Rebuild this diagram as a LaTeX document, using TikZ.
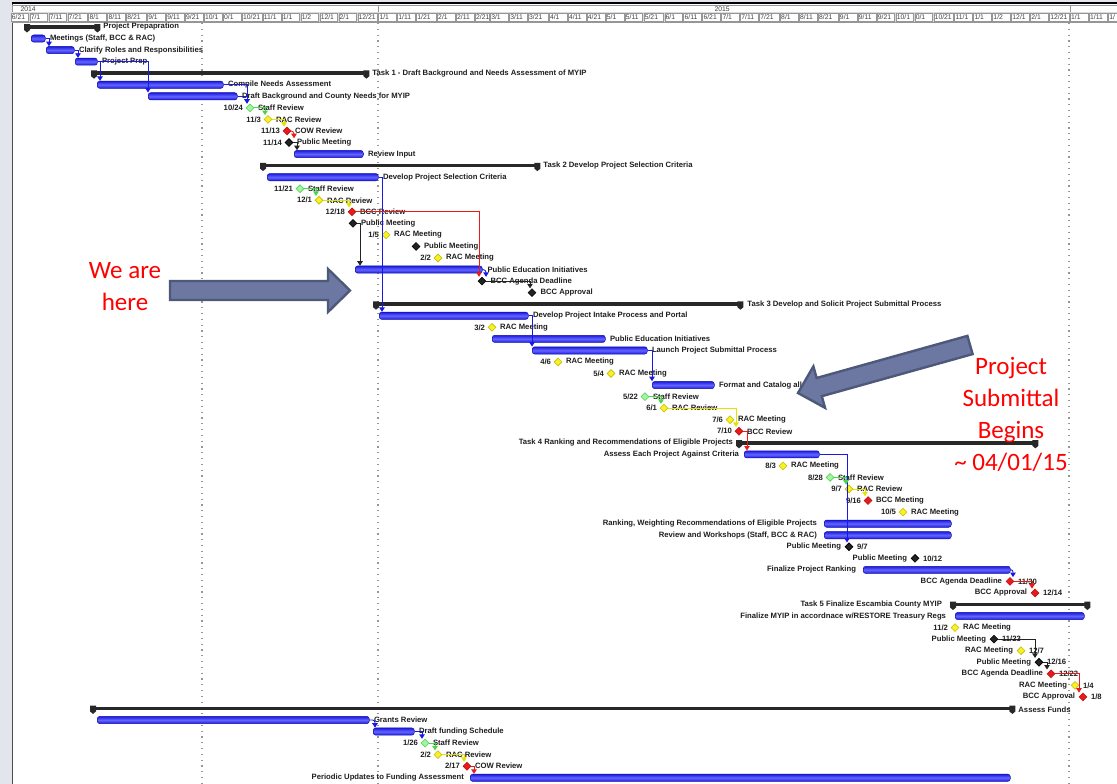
\documentclass[tikz,border=0pt]{standalone}
\usepackage{fontspec}
\setmainfont{Liberation Sans}
\newfontfamily\calloutfont{Carlito}
\usetikzlibrary{shapes.geometric,arrows.meta}
\definecolor{cblue}{RGB}{25,25,230}
\definecolor{barhi}{RGB}{100,100,255}
\definecolor{barlo}{RGB}{28,28,225}
\definecolor{bardk}{RGB}{15,15,170}
\definecolor{cgreen}{RGB}{70,215,70}
\definecolor{mgreen}{RGB}{165,242,165}
\definecolor{cyellow}{RGB}{228,226,0}
\definecolor{myellow}{RGB}{248,240,40}
\definecolor{cred}{RGB}{235,25,25}
\definecolor{cblk}{RGB}{35,35,35}
\definecolor{sumdark}{RGB}{40,40,40}
\definecolor{arrfill}{RGB}{108,120,162}
\definecolor{arrline}{RGB}{78,88,122}
\definecolor{marginc}{RGB}{226,230,236}
\definecolor{hdrgray}{RGB}{150,150,150}
\definecolor{calloutred}{RGB}{255,0,0}
\tikzset{
 taskbar/.style={rectangle, rounded corners=2.5pt, minimum height=7.2pt, inner sep=0pt, anchor=west, draw=bardk, line width=0.5pt, top color=barlo, bottom color=barlo, middle color=barhi},
 sumbar/.style={rectangle, fill=sumdark, minimum height=3.6pt, inner sep=0pt, anchor=west},
 ms/.style={diamond, inner sep=0pt, minimum width=8pt, minimum height=8pt, line width=0.6pt},
 msg/.style={ms, fill=mgreen, draw=cgreen},
 msy/.style={ms, fill=myellow, draw=cyellow!85!black},
 msr/.style={ms, fill=cred, draw=cred!80!black},
 msk/.style={ms, fill=cblk, draw=black},
 lbl/.style={font=\bfseries\fontsize{7.7}{9}\selectfont, inner sep=0.8pt, text=black!88},
 rl/.style={lbl, anchor=west},
 ll/.style={lbl, anchor=east},
 dep/.style={line width=0.9pt, -{Triangle[width=5.5pt,length=4.5pt]}},
 hdr/.style={font=\fontsize{6.8}{7.5}\selectfont, inner sep=0.3pt, text=black!75},
 dotline/.style={hdrgray, line width=1.1pt, dash pattern=on 1.2pt off 4.6pt},
 bigarrow/.style={fill=arrfill, draw=arrline, line width=2.4pt, line join=miter},
 callout/.style={font=\calloutfont\fontsize{25}{32}\selectfont, text=calloutred, align=center, inner sep=0pt}
}
\newcommand\sumends[1]{%
 \fill[sumdark] ([xshift=-3pt,yshift=0.8pt]#1.north west) -- ([xshift=3pt,yshift=0.8pt]#1.north west) -- ([xshift=3pt,yshift=-1pt]#1.south west) -- ([yshift=-3.5pt]#1.south west) -- ([xshift=-3pt,yshift=-1pt]#1.south west) -- cycle;
 \fill[sumdark] ([xshift=-3pt,yshift=0.8pt]#1.north east) -- ([xshift=3pt,yshift=0.8pt]#1.north east) -- ([xshift=3pt,yshift=-1pt]#1.south east) -- ([yshift=-3.5pt]#1.south east) -- ([xshift=-3pt,yshift=-1pt]#1.south east) -- cycle;}
\begin{document}
\begin{tikzpicture}[x=1pt,y=-1pt]
\fill[white] (0,0) rectangle (1117,784);
\useasboundingbox (0,0) rectangle (1117,784);
% frame and margin
\fill[marginc] (0,0) rectangle (12,784);
\fill[marginc] (0,0) rectangle (1117,2);
\draw[black!70, line width=0.8pt] (12,3) -- (12,784);
\draw[black, line width=1.6pt] (12,3.3) -- (1117,3.3);
% year row
\draw[hdrgray, line width=0.5pt] (12,5) rectangle (1118,12.5);
\draw[hdrgray, line width=0.6pt] (378,5) -- (378,12.5);
\draw[hdrgray, line width=0.6pt] (1070,5) -- (1070,12.5);
\node[hdr, anchor=west] (y14) at (20,8.8) {2014};
\node[hdr, anchor=west] (y15) at (714,8.8) {2015};
% date row
\fill[black!14] (12,12.5) rectangle (1117,22);
\foreach \a/\b/\m/\dd in {-194/-184/6/21,-184/-174/7/1,-174/-164/7/11,-164/-153/7/21,-153/-143/8/1,-143/-133/8/11,-133/-122/8/21,-122/-112/9/1,-112/-102/9/11,-102/-92/9/21,-92/-82/10/1,-82/-72/0/1,-72/-61/10/21,-61/-51/11/1,-51/-41/1/1,-41/-31/1/2,-31/-21/12/1,-21/-11/2/1,-11/0/12/21,0/10/1/1,10/20/1/11,20/31/1/21,31/41/2/1,41/51/2/11,51/59/2/21,59/69/3/1,69/79/3/11,79/90/3/21,90/100/4/1,100/110/4/11,110/120/4/21,120/130/5/1,130/140/5/11,140/151/5/21,151/161/6/1,161/171/6/11,171/181/6/21,181/191/7/1,191/201/7/11,201/212/7/21,212/222/8/1,222/232/8/11,232/243/8/21,243/253/9/1,253/263/9/11,263/273/9/21,273/283/10/1,283/293/0/1,293/304/10/21,304/314/11/1,314/324/1/1,324/334/1/2,334/344/12/1,344/354/2/1,354/365/12/21,365/375/1/1,375/385/1/11}{
  \pgfmathsetmacro\xa{378+1.895*\a}
  \pgfmathsetmacro\xb{378+1.895*\b}
  \draw[hdrgray, line width=0.5pt, fill=white] (\xa+0.6,13.2) rectangle (\xb-0.6,21.4);
  \node[hdr, anchor=west] (hd\b) at (\xa+1.0,17.4) {\m/\dd};
}
\draw[hdrgray, line width=0.5pt, fill=white] (1108.2,13.2) rectangle (1120,21.4);
\node[hdr, anchor=west] (hdlast) at (1108.8,17.4) {1/};
\draw[hdrgray, line width=0.6pt] (12,22.5) -- (1117,22.5);
% dotted lines
\draw[dotline] (202,23) -- (202,784);
\draw[dotline] (378,23) -- (378,784);
\draw[dotline] (1069,23) -- (1069,784);

% ===== rows =====
\node[sumbar, minimum width=70pt] (S0) at (27,27) {}; \sumends{S0}
\node[rl] (L0) at ([xshift=5pt,yshift=0.6pt]S0.east) {Project Prepapration};
\node[taskbar, minimum width=14pt] (B1) at (31,38.55) {};
\node[rl] (L1) at ([xshift=3.5pt]B1.east) {Meetings (Staff, BCC \& RAC)};
\node[taskbar, minimum width=28pt] (B2) at (46,50.1) {};
\node[rl] (L2) at ([xshift=3.5pt]B2.east) {Clarify Roles and Responsibilities};
\node[taskbar, minimum width=22pt] (B3) at (75,61.65) {};
\node[rl] (L3) at ([xshift=3.5pt]B3.east) {Project Prep};
\node[sumbar, minimum width=272pt] (S4) at (94,73.2) {}; \sumends{S4}
\node[rl] (L4) at ([xshift=5pt]S4.east) {Task 1 - Draft Background and Needs Assessment of MYIP};
\node[taskbar, minimum width=126pt] (B5) at (97,84.75) {};
\node[rl] (L5) at ([xshift=3.5pt]B5.east) {Compile Needs Assessment};
\node[taskbar, minimum width=89pt] (B6) at (148,96.3) {};
\node[rl] (L6) at ([xshift=3.5pt]B6.east) {Draft Background and County Needs for MYIP};
\node[msg] (M7) at (250,107.85) {};
\node[ll] (D7) at ([xshift=-6pt]M7.center) {10/24};
\node[rl] (L7) at ([xshift=7pt]M7.center) {Staff Review};
\node[msy] (M8) at (268,119.4) {};
\node[ll] (D8) at ([xshift=-6pt]M8.center) {11/3};
\node[rl] (L8) at ([xshift=7pt]M8.center) {RAC Review};
\node[msr] (M9) at (287,130.95) {};
\node[ll] (D9) at ([xshift=-6pt]M9.center) {11/13};
\node[rl] (L9) at ([xshift=7pt]M9.center) {COW Review};
\node[msk] (M10) at (289,142.5) {};
\node[ll] (D10) at ([xshift=-6pt]M10.center) {11/14};
\node[rl] (L10) at ([xshift=7pt]M10.center) {Public Meeting};
\node[taskbar, minimum width=69pt] (B11) at (294,154.05) {};
\node[rl] (L11) at ([xshift=3.5pt]B11.east) {Review Input};
\node[sumbar, minimum width=274pt] (S12) at (263,165.6) {}; \sumends{S12}
\node[rl] (L12) at ([xshift=5pt]S12.east) {Task 2 Develop Project Selection Criteria};
\node[taskbar, minimum width=111pt] (B13) at (267,177.15) {};
\node[rl] (L13) at ([xshift=3.5pt]B13.east) {Develop Project Selection Criteria};
\node[msg] (M14) at (300,188.7) {};
\node[ll] (D14) at ([xshift=-6pt]M14.center) {11/21};
\node[rl] (L14) at ([xshift=7pt]M14.center) {Staff Review};
\node[msy] (M15) at (319,200.25) {};
\node[ll] (D15) at ([xshift=-6pt]M15.center) {12/1};
\node[rl] (L15) at ([xshift=7pt]M15.center) {RAC Review};
\node[msr] (M16) at (352,211.8) {};
\node[ll] (D16) at ([xshift=-6pt]M16.center) {12/18};
\node[rl] (L16) at ([xshift=7pt]M16.center) {BCC Review};
\node[msk] (M17) at (353,223.35) {};
\node[rl] (L17) at ([xshift=7pt]M17.center) {Public Meeting};
\node[msy] (M18) at (386,234.9) {};
\node[ll] (D18) at ([xshift=-6pt]M18.center) {1/5};
\node[rl] (L18) at ([xshift=7pt]M18.center) {RAC Meeting};
\node[msk] (M19) at (416,246.45) {};
\node[rl] (L19) at ([xshift=7pt]M19.center) {Public Meeting};
\node[msy] (M20) at (438,258) {};
\node[ll] (D20) at ([xshift=-6pt]M20.center) {2/2};
\node[rl] (L20) at ([xshift=7pt]M20.center) {RAC Meeting};
\node[taskbar, minimum width=127pt] (B21) at (355,269.55) {};
\node[rl] (L21) at ([xshift=4pt]B21.east) {Public Education Initiatives};
\node[msk] (M22) at (482,281.1) {};
\node[rl] (L22) at ([xshift=7.5pt]M22.center) {BCC Agenda Deadline};
\node[msk] (M23) at (532,292.65) {};
\node[rl] (L23) at ([xshift=7.5pt]M23.center) {BCC Approval};
\node[sumbar, minimum width=364pt] (S24) at (376,304.2) {}; \sumends{S24}
\node[rl] (L24) at ([xshift=6pt]S24.east) {Task 3 Develop and Solicit Project Submittal Process};
\node[taskbar, minimum width=149pt] (B25) at (379,315.75) {};
\node[rl] (L25) at ([xshift=3.5pt]B25.east) {Develop Project Intake Process and Portal};
\node[msy] (M26) at (492,327.3) {};
\node[ll] (D26) at ([xshift=-6pt]M26.center) {3/2};
\node[rl] (L26) at ([xshift=7pt]M26.center) {RAC Meeting};
\node[taskbar, minimum width=113pt] (B27) at (492,338.85) {};
\node[rl] (L27) at ([xshift=3.5pt]B27.east) {Public Education Initiatives};
\node[taskbar, minimum width=115pt] (B28) at (532,350.4) {};
\node[rl] (L28) at ([xshift=3.5pt]B28.east) {Launch Project Submittal Process};
\node[msy] (M29) at (558,361.95) {};
\node[ll] (D29) at ([xshift=-6pt]M29.center) {4/6};
\node[rl] (L29) at ([xshift=7pt]M29.center) {RAC Meeting};
\node[msy] (M30) at (611,373.5) {};
\node[ll] (D30) at ([xshift=-6pt]M30.center) {5/4};
\node[rl] (L30) at ([xshift=7pt]M30.center) {RAC Meeting};
\node[taskbar, minimum width=62pt] (B31) at (652,385.05) {};
\node[rl] (L31) at ([xshift=3.5pt]B31.east) {Format and Catalog all};
\node[msg] (M32) at (645,396.6) {};
\node[ll] (D32) at ([xshift=-6pt]M32.center) {5/22};
\node[rl] (L32) at ([xshift=7pt]M32.center) {Staff Review};
\node[msy] (M33) at (664,408.15) {};
\node[ll] (D33) at ([xshift=-6pt]M33.center) {6/1};
\node[rl] (L33) at ([xshift=7pt]M33.center) {RAC Review};
\node[msy] (M34) at (730,419.7) {};
\node[ll] (D34) at ([xshift=-6pt]M34.center) {7/6};
\node[rl] (L34) at ([xshift=7pt]M34.center) {RAC Meeting};
\node[msr] (M35) at (739,431.25) {};
\node[ll] (D35) at ([xshift=-6pt]M35.center) {7/10};
\node[rl] (L35) at ([xshift=7pt]M35.center) {BCC Review};
\node[sumbar, minimum width=296pt] (S36) at (739,442.8) {}; \sumends{S36}
\node[ll] (L36) at ([xshift=-5pt]S36.west) {Task 4 Ranking and Recommendations of Eligible Projects};
\node[taskbar, minimum width=75pt] (B37) at (744,454.35) {};
\node[ll] (L37) at ([xshift=-4pt]B37.west) {Assess Each Project Against Criteria};
\node[msy] (M38) at (783,465.9) {};
\node[ll] (D38) at ([xshift=-6pt]M38.center) {8/3};
\node[rl] (L38) at ([xshift=7pt]M38.center) {RAC Meeting};
\node[msg] (M39) at (830,477.45) {};
\node[ll] (D39) at ([xshift=-6pt]M39.center) {8/28};
\node[rl] (L39) at ([xshift=7pt]M39.center) {Staff Review};
\node[msy] (M40) at (849,489) {};
\node[ll] (D40) at ([xshift=-6pt]M40.center) {9/7};
\node[rl] (L40) at ([xshift=7pt]M40.center) {RAC Review};
\node[msr] (M41) at (868,500.55) {};
\node[ll] (D41) at ([xshift=-6pt]M41.center) {9/16};
\node[rl] (L41) at ([xshift=7pt]M41.center) {BCC Meeting};
\node[msy] (M42) at (903,512.1) {};
\node[ll] (D42) at ([xshift=-6pt]M42.center) {10/5};
\node[rl] (L42) at ([xshift=7pt]M42.center) {RAC Meeting};
\node[taskbar, minimum width=127pt] (B43) at (824,523.65) {};
\node[ll] (L43) at ([xshift=-6pt]B43.west) {Ranking, Weighting Recommendations of Eligible Projects};
\node[taskbar, minimum width=127pt] (B44) at (824,535.2) {};
\node[ll] (L44) at ([xshift=-6pt]B44.west) {Review and Workshops (Staff, BCC \& RAC)};
\node[msk] (M45) at (849,546.75) {};
\node[ll] (D45) at ([xshift=-7pt]M45.center) {Public Meeting};
\node[rl] (L45) at ([xshift=7pt]M45.center) {9/7};
\node[msk] (M46) at (915,558.3) {};
\node[ll] (D46) at ([xshift=-7pt]M46.center) {Public Meeting};
\node[rl] (L46) at ([xshift=7pt]M46.center) {10/12};
\node[taskbar, minimum width=147pt] (B47) at (863,569.85) {};
\node[ll] (L47) at ([xshift=-6pt]B47.west) {Finalize Project Ranking};
\node[msr] (M48) at (1010,581.4) {};
\node[ll] (D48) at ([xshift=-7pt]M48.center) {BCC Agenda Deadline};
\node[rl] (L48) at ([xshift=7pt]M48.center) {11/30};
\node[msr] (M49) at (1035,592.95) {};
\node[ll] (D49) at ([xshift=-7pt]M49.center) {BCC Approval};
\node[rl] (L49) at ([xshift=7pt]M49.center) {12/14};
\node[sumbar, minimum width=134pt] (S50) at (953,604.5) {}; \sumends{S50}
\node[ll] (L50) at ([xshift=-10pt]S50.west) {Task 5 Finalize Escambia County MYIP};
\node[taskbar, minimum width=129pt] (B51) at (955,616.05) {};
\node[ll] (L51) at ([xshift=-8pt]B51.west) {Finalize MYIP in accordnace w/RESTORE Treasury Regs};
\node[msy] (M52) at (955,627.6) {};
\node[ll] (D52) at ([xshift=-6pt]M52.center) {11/2};
\node[rl] (L52) at ([xshift=7pt]M52.center) {RAC Meeting};
\node[msk] (M53) at (994,639.15) {};
\node[ll] (D53) at ([xshift=-7pt]M53.center) {Public Meeting};
\node[rl] (L53) at ([xshift=7pt]M53.center) {11/23};
\node[msy] (M54) at (1021,650.7) {};
\node[ll] (D54) at ([xshift=-7pt]M54.center) {RAC Meeting};
\node[rl] (L54) at ([xshift=7pt]M54.center) {12/7};
\node[msk] (M55) at (1039,662.25) {};
\node[ll] (D55) at ([xshift=-7pt]M55.center) {Public Meeting};
\node[rl] (L55) at ([xshift=7pt]M55.center) {12/16};
\node[msr] (M56) at (1051,673.8) {};
\node[ll] (D56) at ([xshift=-7pt]M56.center) {BCC Agenda Deadline};
\node[rl] (L56) at ([xshift=7pt]M56.center) {12/22};
\node[msy] (M57) at (1075,685.35) {};
\node[ll] (D57) at ([xshift=-7pt]M57.center) {RAC Meeting};
\node[rl] (L57) at ([xshift=7pt]M57.center) {1/4};
\node[msr] (M58) at (1083,696.9) {};
\node[ll] (D58) at ([xshift=-7pt]M58.center) {BCC Approval};
\node[rl] (L58) at ([xshift=7pt]M58.center) {1/8};
\node[sumbar, minimum width=919pt] (S59) at (93,708.45) {}; \sumends{S59}
\node[rl] (L59) at ([xshift=5pt,yshift=-1.5pt]S59.east) {Assess Funds};
\node[taskbar, minimum width=272pt] (B60) at (97,720) {};
\node[rl] (L60) at ([xshift=3.5pt]B60.east) {Grants Review};
\node[taskbar, minimum width=41pt] (B61) at (373,731.55) {};
\node[rl] (L61) at ([xshift=3.5pt]B61.east) {Draft funding Schedule};
\node[msg] (M62) at (425,743.1) {};
\node[ll] (D62) at ([xshift=-6pt]M62.center) {1/26};
\node[rl] (L62) at ([xshift=7pt]M62.center) {Staff Review};
\node[msy] (M63) at (438,754.65) {};
\node[ll] (D63) at ([xshift=-6pt]M63.center) {2/2};
\node[rl] (L63) at ([xshift=7pt]M63.center) {RAC Review};
\node[msr] (M64) at (467,766.2) {};
\node[ll] (D64) at ([xshift=-6pt]M64.center) {2/17};
\node[rl] (L64) at ([xshift=7pt]M64.center) {COW Review};
\node[taskbar, minimum width=540pt] (B65) at (470,777.75) {};
\node[ll] (L65) at ([xshift=-5pt]B65.west) {Periodic Updates to Funding Assessment};

% ===== connectors =====
\draw[dep, cblue] (B1.east) -| ([xshift=3pt]B2.north west);
\draw[dep, cblue] (B2.east) -| ([xshift=3pt]B3.north west);
\draw[dep, cblue] (B3.east) -| ([xshift=3pt]B5.north west);
\draw[dep, cblue] (B3.east) -| (B6.north west);
\draw[dep, cblue] (B5.east) -| ([xshift=-3pt]M7.north);
\draw[dep, cblue] (B6.east) -| ([xshift=-3pt]M7.north);
\draw[dep, cgreen] (M7.east) -| ([xshift=-3pt]M8.north);
\draw[dep, cyellow] (M8.east) -| ([xshift=-3pt]M9.north);
\draw[dep, cred, rounded corners=3pt] (M9.east) -| ([xshift=5pt]M10.north);
\draw[dep, cblk] (M10.east) -| ([xshift=3pt]B11.north west);
\draw[dep, cblue] (B13.east) -| ([xshift=3pt]B25.north west);
\draw[dep, cgreen] (M14.east) -| ([xshift=-3pt]M15.north);
\draw[dep, cyellow] (M15.east) -| ([xshift=-3pt]M16.north);
\draw[dep, cred] (M16.east) -| ([xshift=-3pt]M22.north);
\draw[dep, cblk] (M17.east) -| ([xshift=5pt]B21.north west);
\draw[dep, cblue, rounded corners=3pt] (B21.east) -| ([xshift=4pt]M22.north);
\draw[dep, cblk] (M22.east) -| ([xshift=-2pt]M23.north);
\draw[dep, cblue] (B25.east) -| (B28.north west);
\draw[dep, cblue] (B28.east) -| (B31.north west);
\draw[dep, cgreen] (M32.east) -| ([xshift=-3pt]M33.north);
\draw[dep, cyellow] (M33.east) -| ([xshift=-3pt]M35.north);
\draw[dep, cred] (M35.east) -| ([xshift=3pt]B37.north west);
\draw[dep, cblue] (B37.east) -| ([xshift=-2pt]M45.north);
\draw[dep, cgreen] (M39.east) -| ([xshift=-3pt]M40.north);
\draw[dep, cyellow] (M40.east) -| ([xshift=-3pt]M41.north);
\draw[dep, cblue, rounded corners=2pt] (B47.east) -| ([xshift=3pt]M48.north);
\draw[dep, cred] (M48.east) -| ([xshift=-3pt]M49.north);
\draw[dep, cblk] (M53.east) -| ([xshift=-4pt]M55.north);
\draw[dep, cblk] (M55.east) -| ([xshift=-4pt]M56.north);
\draw[dep, cred] (M56.east) -| ([xshift=-4pt]M58.north);
\draw[dep, cblue, rounded corners=2.5pt] (B60.east) -| ([xshift=2pt]B61.north west);
\draw[dep, cblue] (B61.east) -| ([xshift=-3pt]M62.north);
\draw[dep, cgreen] (M62.east) -| ([xshift=-3pt]M63.north);
\draw[dep, cyellow] (M63.east) -| ([xshift=-3pt]M64.north);
\draw[dep, cred] (M64.east) -| ([xshift=4pt]B65.north west);

% ===== callouts =====
\draw[bigarrow] (170,281) -- (328,281) -- (328,269) -- (350,290.5) -- (328,312) -- (328,300) -- (170,300) -- cycle;
\draw[bigarrow] (967.4,335.9) -- (816.6,378.0) -- (813.4,366.4) -- (798,393) -- (825.0,407.8) -- (821.8,396.2) -- (972.6,354.1) -- cycle;
\node[callout] (here) at (125,287) {We are\\here};
\node[callout] (submit) at (1011,414) {Project\\Submittal\\Begins\\\textasciitilde\ 04/01/15};
\end{tikzpicture}
\end{document}
